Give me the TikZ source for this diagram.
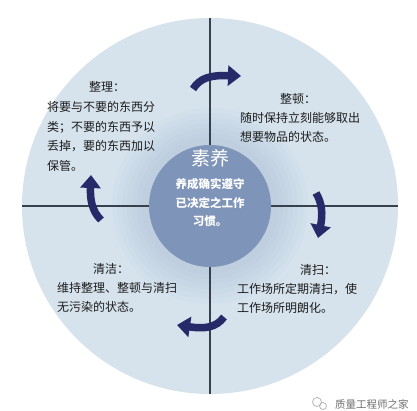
\documentclass[tikz,border=0pt]{standalone}
\usepackage{fontspec}
\newfontfamily\cjk{Noto Sans CJK SC}
\usetikzlibrary{arrows.meta}
\definecolor{disc}{RGB}{214,227,237}
\definecolor{halo}{RGB}{150,172,200}
\definecolor{core}{RGB}{126,148,184}
\definecolor{axis}{RGB}{55,65,78}
\definecolor{navy}{RGB}{38,42,105}
\definecolor{ink}{RGB}{28,28,28}
\definecolor{wm}{RGB}{110,110,110}
\tikzset{
  bodytxt/.style={font=\cjk\fontsize{12}{14}\selectfont, text=ink, inner sep=0pt, text height=0.88em, text depth=0.12em, anchor=west},
  titletxt/.style={bodytxt, anchor=center},
  coretxt/.style={font=\cjk\bfseries\fontsize{11.5}{13}\selectfont, text=white, inner sep=0pt, text height=0.88em, text depth=0.12em, anchor=center},
  cyclearrow/.style={draw=navy, line width=7.5pt, -{Triangle[length=13pt,width=20pt]}, fill=none},
}
\begin{document}
\begin{tikzpicture}[x=1pt,y=-1pt]
\useasboundingbox (0,0) rectangle (417,410);
\fill[white] (0,0) rectangle (417,410);
% outer disc
\coordinate (c) at (210,206);
\fill[disc] (c) circle[radius=188];
% soft halo around the core
\foreach \r in {98,93,...,64} {
  \fill[halo, opacity=0.05] (c) circle[radius=\r];
}
% axes
\coordinate (top) at (210,18);
\coordinate (bot) at (210,394);
\coordinate (lft) at (22,206);
\coordinate (rgt) at (398,206);
\draw[axis, line width=1.4pt] (top) -- (bot);
\draw[axis, line width=1.4pt] (lft) -- (rgt);
% core circle
\fill[core] (c) circle[radius=61];
\node[coretxt, font=\cjk\fontsize{19}{22}\selectfont] (sy) at (210,162) {素养};
\node[coretxt] (sy1) at (210,185) {养成确实遵守};
\node[coretxt] (sy2) at (210,203.5) {已决定之工作};
\node[coretxt] (sy3) at (210,222) {习惯。};
% top-left
\node[titletxt] (zl) at (107,88) {整理：};
\node[bodytxt] (zl1) at (47,108) {将要与不要的东西分};
\node[bodytxt] (zl2) at (47,127.5) {类；不要的东西予以};
\node[bodytxt] (zl3) at (47,147) {丢掉，要的东西加以};
\node[bodytxt] (zl4) at (47,166.5) {保管。};
% top-right
\node[titletxt] (zd) at (298,100) {整顿：};
\node[bodytxt] (zd1) at (240,118.5) {随时保持立刻能够取出};
\node[bodytxt] (zd2) at (240,137.5) {想要物品的状态。};
% bottom-right
\node[titletxt] (qs) at (318,271) {清扫：};
\node[bodytxt] (qs1) at (237,290) {工作场所定期清扫，使};
\node[bodytxt] (qs2) at (237,309) {工作场所明朗化。};
% bottom-left
\node[titletxt] (qj) at (111,270) {清洁：};
\node[bodytxt] (qj1) at (57,288.5) {维持整理、整顿与清扫};
\node[bodytxt] (qj2) at (57,307.5) {无污染的状态。};
% cycle arrows
\coordinate (a1s) at (193,89);
\coordinate (a1e) at (241,76);
\draw[cyclearrow] (a1s) .. controls (200,78) and (210,75) .. (a1e);
\coordinate (a2s) at (316,193);
\coordinate (a2e) at (318,238);
\draw[cyclearrow] (a2s) .. controls (322,203) and (323,214) .. (a2e);
\coordinate (a3s) at (224,317);
\coordinate (a3e) at (177,325);
\draw[cyclearrow] (a3s) .. controls (216,328) and (204,329) .. (a3e);
\coordinate (a4s) at (101,220);
\coordinate (a4e) at (91,175);
\draw[cyclearrow] (a4s) .. controls (92,211) and (90,200) .. (a4e);
% watermark
\draw[wm!50, line width=0.8pt] (317,402) circle[radius=4.5];
\draw[wm!50, line width=0.8pt] (323,406) circle[radius=3.5];
\node[font=\cjk\fontsize{10.5}{12}\selectfont, text=wm, inner sep=0pt, anchor=west] (wmk) at (335,404) {质量工程师之家};
\end{tikzpicture}
\end{document}
